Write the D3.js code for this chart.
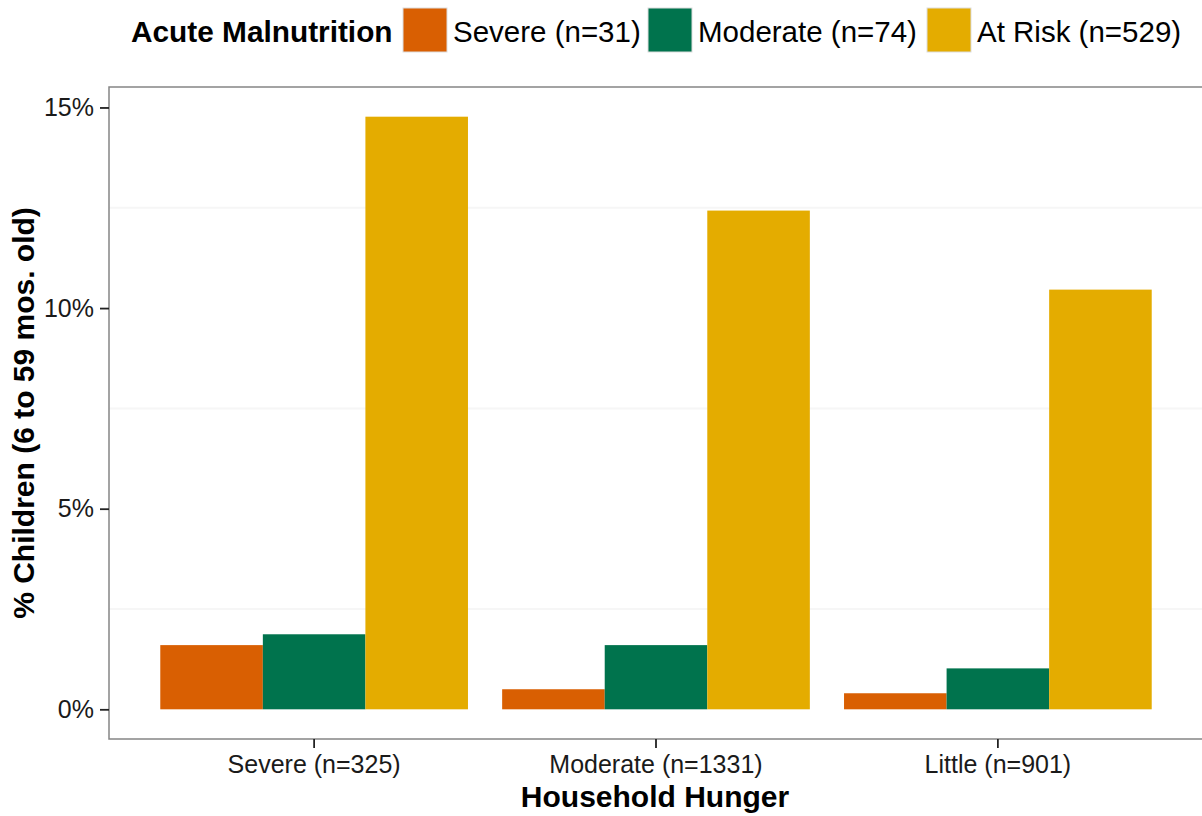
<!DOCTYPE html>
<html>
<head>
<meta charset="utf-8">
<script src="https://cdn.jsdelivr.net/npm/d3@7"></script>
<style>
  body { margin: 0; background: #fff; }
  text { font-family: "Liberation Sans", Arial, sans-serif; }
</style>
</head>
<body>
<div id="chart"></div>
<script>
// household hunger groups (x axis)
var groups = ["Severe (n=325)", "Moderate (n=1331)", "Little (n=901)"];
// acute malnutrition series (legend)
var series = ["Severe (n=31)", "Moderate (n=74)", "At Risk (n=529)"];
var colors = ["#D95F02", "#00734D", "#E4AC00"];
// % children, one array per series, in group order
var severeVals = [1.60, 0.50, 0.40];
var moderateVals = [1.87, 1.60, 1.02];
var atRiskVals = [14.77, 12.43, 10.46];
var yTicks = [0, 5, 10, 15];
var yMinor = [2.5, 7.5, 12.5];

var seriesVals = [severeVals, moderateVals, atRiskVals];

var W = 1202, H = 816;
var pLeft = 109, pRight = 1203, pTop = 87, pBottom = 739;

var svg = d3.select("#chart").append("svg")
    .attr("width", W)
    .attr("height", H);

var y = d3.scaleLinear()
    .domain([-0.74, 15.51])
    .range([pBottom, pTop]);

var x = d3.scaleBand()
    .domain(groups)
    .range([pLeft, pRight])
    .paddingInner(0.1)
    .paddingOuter(0.15);

var xs = d3.scaleBand()
    .domain(series)
    .range([0, x.bandwidth()]);

// faint minor grid
svg.selectAll(".minor")
    .data(yMinor)
    .enter()
    .append("line")
    .attr("class", "minor")
    .attr("x1", pLeft).attr("x2", pRight)
    .attr("y1", function(d) { return y(d); })
    .attr("y2", function(d) { return y(d); })
    .style("stroke", "#f6f6f6")
    .style("stroke-width", 2);

// bars
var bars = [];
groups.forEach(function(g, gi) {
    series.forEach(function(s, si) {
        bars.push({ group: g, series: s, value: seriesVals[si][gi], color: colors[si] });
    });
});

svg.selectAll(".bar")
    .data(bars)
    .enter()
    .append("rect")
    .attr("class", "bar")
    .attr("x", function(d) { return x(d.group) + xs(d.series); })
    .attr("y", function(d) { return y(d.value); })
    .attr("width", xs.bandwidth())
    .attr("height", function(d) { return y(0) - y(d.value); })
    .style("fill", function(d) { return d.color; });

// panel border
svg.append("rect")
    .attr("x", pLeft).attr("y", pTop)
    .attr("width", pRight - pLeft).attr("height", pBottom - pTop)
    .style("fill", "none")
    .style("stroke", "#858585")
    .style("stroke-width", 1.5);

// y axis
var yAxis = svg.append("g")
    .attr("transform", "translate(" + pLeft + ",0)")
    .call(d3.axisLeft(y).tickValues(yTicks).tickSize(9).tickPadding(6)
        .tickFormat(function(d) { return d + "%"; }));
yAxis.select(".domain").remove();
yAxis.selectAll(".tick line").style("stroke", "#222").style("stroke-width", 1.8);
yAxis.selectAll(".tick text")
    .style("font-size", "25px")
    .style("fill", "#1a1a1a")
    .style("font-family", "Liberation Sans, Arial, sans-serif");

// x axis
var xAxis = svg.append("g")
    .attr("transform", "translate(0," + pBottom + ")")
    .call(d3.axisBottom(x).tickSize(9).tickPadding(7));
xAxis.select(".domain").remove();
xAxis.selectAll(".tick line").style("stroke", "#222").style("stroke-width", 1.8);
xAxis.selectAll(".tick text")
    .style("font-size", "25px")
    .style("fill", "#1a1a1a")
    .style("font-family", "Liberation Sans, Arial, sans-serif");

// axis titles
svg.append("text")
    .attr("x", (pLeft + pRight) / 2 - 1)
    .attr("y", 807)
    .attr("text-anchor", "middle")
    .style("font-size", "30px")
    .style("font-weight", "bold")
    .text("Household Hunger");

svg.append("text")
    .attr("transform", "translate(34," + ((pTop + pBottom) / 2) + ") rotate(-90)")
    .attr("text-anchor", "middle")
    .style("font-size", "30px")
    .style("font-weight", "bold")
    .text("% Children (6 to 59 mos. old)");

// legend
var legend = svg.append("g");
legend.append("text")
    .attr("x", 131).attr("y", 42)
    .style("font-size", "29.8px")
    .style("font-weight", "bold")
    .text("Acute Malnutrition");

var keyX = [403, 648, 927];
series.forEach(function(s, i) {
    legend.append("rect")
        .attr("x", keyX[i]).attr("y", 8)
        .attr("width", 44).attr("height", 44)
        .style("fill", colors[i])
        .style("stroke", "#ddd")
        .style("stroke-width", 1);
    legend.append("text")
        .attr("x", keyX[i] + 50).attr("y", 42)
        .style("font-size", "29.5px")
        .text(s);
});
</script>
</body>
</html>
